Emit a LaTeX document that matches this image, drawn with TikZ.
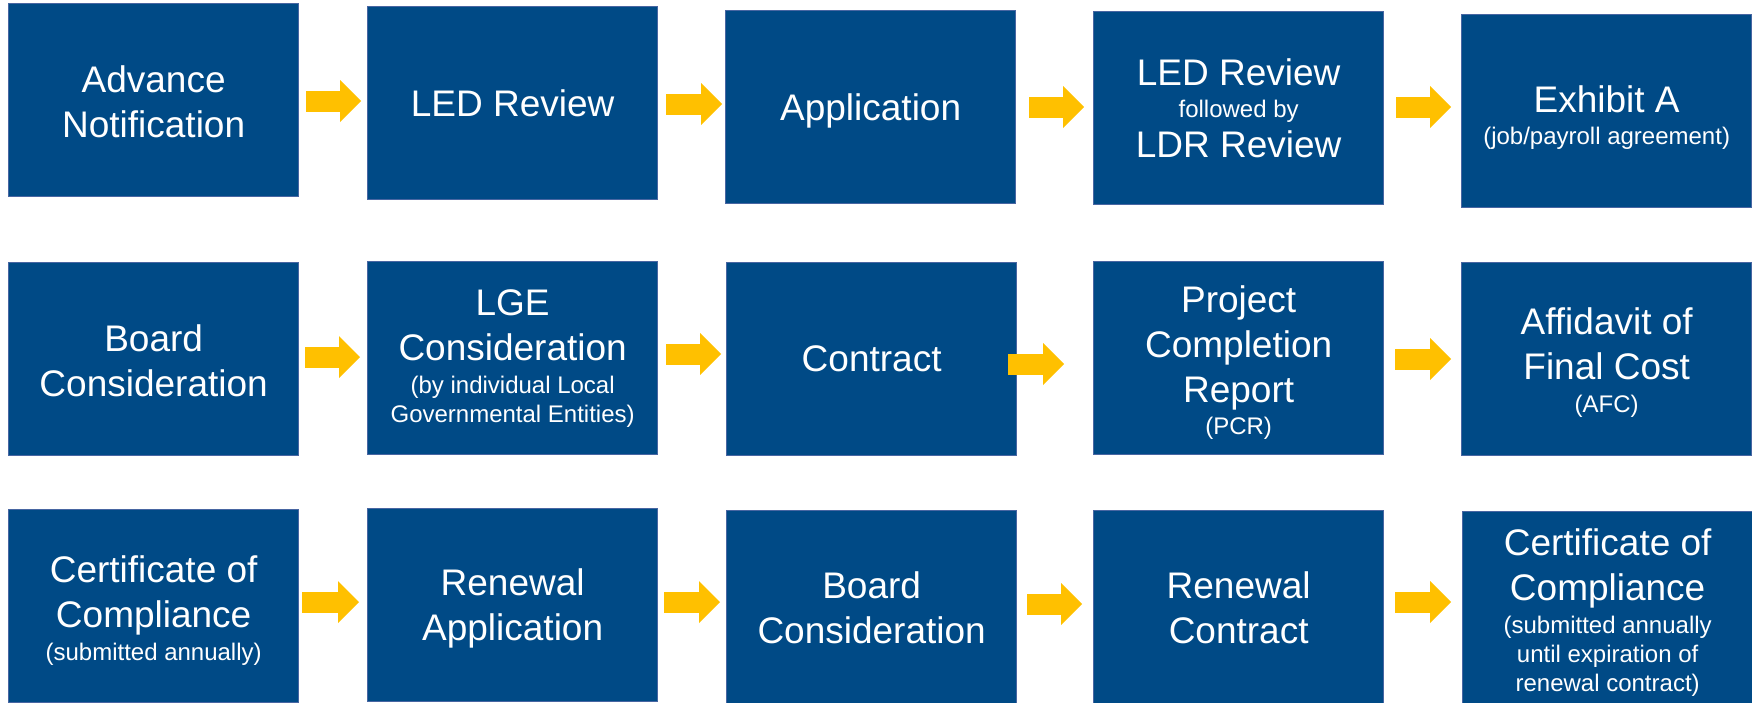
\documentclass[tikz,border=0pt]{standalone}
\usepackage{fontspec}
\setmainfont{Liberation Sans}
\usetikzlibrary{arrows.meta,calc}
\definecolor{boxblue}{RGB}{0,74,134}
\definecolor{boxedge}{RGB}{72,102,162}
\definecolor{arrowyellow}{RGB}{255,192,0}
\newcommand\smalltxt{\fontsize{24}{29}\selectfont}
\newcommand\topstrut[1]{\rule{0pt}{#1}}
\begin{document}
\begin{tikzpicture}[x=1pt,y=-1pt,
  stepbox/.style={draw=boxedge, fill=boxblue, line width=1.3pt,
    minimum width=290pt, minimum height=193pt, inner sep=0pt,
    anchor=north west, text=white, align=center,
    font=\fontsize{37}{45}\selectfont},
  flow/.style={draw=arrowyellow, line width=21pt, line cap=butt,
    -{Triangle[length=21pt,width=42pt,line width=0pt]}}]
\useasboundingbox (0,0) rectangle (1752,702);
% row 1
\node[stepbox] (b1) at (8,3) {\topstrut{31pt}Advance\\Notification};
\node[stepbox] (b2) at (367,6) {LED Review};
\node[stepbox] (b3) at (725,10) {\topstrut{35pt}Application};
\node[stepbox] (b4) at (1093,11) {LED Review\\[-13pt]{\smalltxt followed by}\\[-5pt]LDR Review};
\node[stepbox] (b5) at (1461,14) {\topstrut{39pt}Exhibit A\\[-13pt]{\smalltxt (job/payroll agreement)}};
% row 2
\node[stepbox] (b6) at (8,262) {\topstrut{30pt}Board\\Consideration};
\node[stepbox] (b7) at (367,261) {LGE\\Consideration\\[-12pt]{\smalltxt (by individual Local}\\[-16pt]{\smalltxt Governmental Entities)}};
\node[stepbox] (b8) at (726,262) {Contract};
\node[stepbox] (b9) at (1093,261) {\topstrut{35pt}Project\\Completion\\Report\\[-13pt]{\smalltxt (PCR)}};
\node[stepbox] (b10) at (1461,262) {\topstrut{34pt}Affidavit of\\Final Cost\\[-12pt]{\smalltxt (AFC)}};
% row 3
\node[stepbox] (b11) at (8,509) {\topstrut{36pt}Certificate of\\Compliance\\[-12pt]{\smalltxt (submitted annually)}};
\node[stepbox] (b12) at (367,508) {\topstrut{34pt}Renewal\\Application};
\node[stepbox] (b13) at (726,510) {\topstrut{29pt}Board\\Consideration};
\node[stepbox] (b14) at (1093,510) {\topstrut{29pt}Renewal\\Contract};
\node[stepbox] (b15) at (1462,511) {\topstrut{36pt}Certificate of\\Compliance\\[-12pt]{\smalltxt (submitted annually}\\[-16pt]{\smalltxt until expiration of}\\[-16pt]{\smalltxt renewal contract)}};
% arrows
\draw[flow] ($(b1.east |- 0,101)+(7,0)$) -- ($(b2.west |- 0,101)+(-6,0)$);
\draw[flow] ($(b2.east |- 0,104)+(8,0)$) -- ($(b3.west |- 0,104)+(-3,0)$);
\draw[flow] ($(b3.east |- 0,107)+(13,0)$) -- ($(b4.west |- 0,107)+(-9,0)$);
\draw[flow] ($(b4.east |- 0,107)+(12,0)$) -- ($(b5.west |- 0,107)+(-10,0)$);
\draw[flow] ($(b6.east |- 0,357)+(6,0)$) -- ($(b7.west |- 0,357)+(-7,0)$);
\draw[flow] ($(b7.east |- 0,354)+(8,0)$) -- ($(b8.west |- 0,354)+(-5,0)$);
\draw[flow] ($(b8.east |- 0,364)+(-9,0)$) -- ($(b9.west |- 0,364)+(-29,0)$);
\draw[flow] ($(b9.east |- 0,359)+(11,0)$) -- ($(b10.west |- 0,359)+(-10,0)$);
\draw[flow] ($(b11.east |- 0,602)+(3,0)$) -- ($(b12.west |- 0,602)+(-8,0)$);
\draw[flow] ($(b12.east |- 0,602)+(6,0)$) -- ($(b13.west |- 0,602)+(-6,0)$);
\draw[flow] ($(b13.east |- 0,604)+(10,0)$) -- ($(b14.west |- 0,604)+(-11,0)$);
\draw[flow] ($(b14.east |- 0,602)+(11,0)$) -- ($(b15.west |- 0,602)+(-11,0)$);
\end{tikzpicture}
\end{document}
